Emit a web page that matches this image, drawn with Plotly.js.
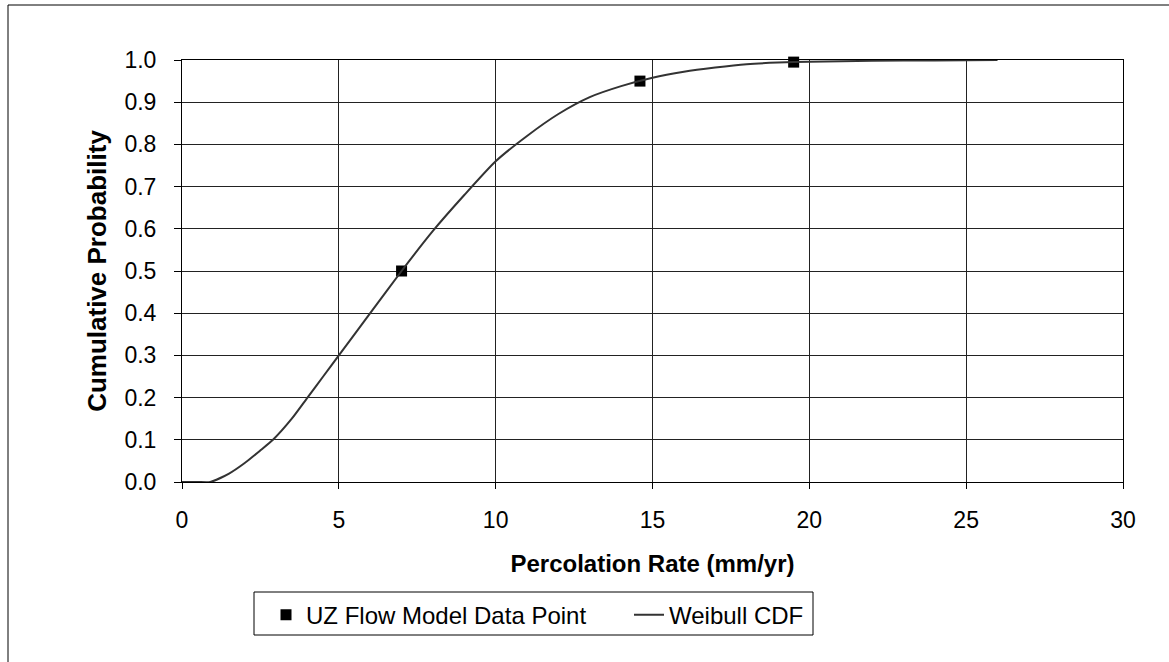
<!DOCTYPE html>
<html>
<head>
<meta charset="utf-8">
<script src="https://cdn.plot.ly/plotly-3.0.1.min.js"></script>
<style>
  html, body { margin: 0; padding: 0; background: #fff; }
  #chart { width: 1169px; height: 662px; }
</style>
</head>
<body>
<div id="chart"></div>
<script>
// Data
const pointX = [7.0, 14.6, 19.5];
const pointY = [0.50, 0.95, 0.995];

const cdfX = [0, 0.5, 0.9, 1.5, 2.0, 2.5, 2.9, 3.5, 4.0, 4.5, 5.0, 6.0, 7.0, 8.0, 9.0, 10.0, 11.0, 12.0, 13.0, 14.0, 15.0, 16.0, 17.0, 18.0, 19.0, 20.0, 22.0, 24.0, 26.0];
const cdfY = [0, 0, 0, 0.02, 0.045, 0.075, 0.10, 0.15, 0.20, 0.25, 0.30, 0.40, 0.50, 0.595, 0.68, 0.76, 0.82, 0.872, 0.912, 0.938, 0.958, 0.972, 0.982, 0.99, 0.994, 0.996, 0.998, 0.999, 1.0];

const xTicks = [0, 5, 10, 15, 20, 25, 30];
const yTicks = [0, 0.1, 0.2, 0.3, 0.4, 0.5, 0.6, 0.7, 0.8, 0.9, 1.0];

const seriesNames = ['UZ Flow Model Data Point', 'Weibull CDF'];
const xTitle = 'Percolation Rate (mm/yr)';
const yTitle = 'Cumulative Probability';

const FONT = '"Liberation Sans", Arial, Helvetica, sans-serif';

const traces = [
  {
    x: pointX, y: pointY, type: 'scatter', mode: 'markers', name: seriesNames[0],
    marker: { symbol: 'square', size: 11, color: '#000' },
    cliponaxis: false, legend: 'legend'
  },
  {
    x: cdfX, y: cdfY, type: 'scatter', mode: 'lines', name: seriesNames[1],
    line: { color: '#333', width: 2, shape: 'spline', smoothing: 0.6 },
    cliponaxis: false, legend: 'legend2'
  }
];

const legendFont = { family: FONT, size: 24, color: '#000' };

const layout = {
  width: 1169, height: 662,
  margin: { l: 182, r: 46, t: 60, b: 180 },
  paper_bgcolor: '#fff', plot_bgcolor: '#fff',
  font: { family: FONT, size: 23, color: '#000' },
  showlegend: true,
  xaxis: {
    range: [0, 30], tickvals: xTicks, ticktext: xTicks.map(v => String(v)),
    showgrid: true, gridcolor: '#222', gridwidth: 1,
    showline: true, linecolor: '#000', linewidth: 1, mirror: true,
    ticks: 'outside', ticklen: 6, tickcolor: '#000',
    ticklabelstandoff: 11,
    zeroline: false,
    tickfont: { family: FONT, size: 23, color: '#000' },
    title: { text: '<b>' + xTitle + '</b>', font: { family: FONT, size: 24, color: '#000' }, standoff: 23 }
  },
  yaxis: {
    range: [0, 1.0], tickvals: yTicks, ticktext: yTicks.map(v => v.toFixed(1)),
    showgrid: true, gridcolor: '#222', gridwidth: 1,
    showline: true, linecolor: '#000', linewidth: 1, mirror: true,
    ticks: 'outside', ticklen: 7, tickcolor: '#000',
    ticklabelstandoff: 13,
    zeroline: false,
    tickfont: { family: FONT, size: 23, color: '#000' },
    title: { text: '<b>' + yTitle + '</b>', font: { family: FONT, size: 26, color: '#000' }, standoff: 10 }
  },
  legend: {
    orientation: 'h', x: (266 - 182) / 941, y: -0.262, xanchor: 'left', yanchor: 'top',
    borderwidth: 0, bgcolor: 'rgba(0,0,0,0)',
    font: legendFont, itemwidth: 30
  },
  legend2: {
    orientation: 'h', x: (629 - 182) / 941, y: -0.262, xanchor: 'left', yanchor: 'top',
    borderwidth: 0, bgcolor: 'rgba(0,0,0,0)',
    font: legendFont, itemwidth: 30
  },
  shapes: [
    { type: 'rect', xref: 'paper', yref: 'paper',
      x0: -174 / 941, x1: 1.06, y0: -(662 + 10 - 482) / 422, y1: (482 - 5) / 422,
      line: { color: '#000', width: 1 }, fillcolor: 'rgba(0,0,0,0)', layer: 'below' },
    { type: 'rect', xref: 'paper', yref: 'paper',
      x0: (254 - 182) / 941, x1: (813 - 182) / 941, y0: -(635 - 482) / 422, y1: -(592 - 482) / 422,
      line: { color: '#000', width: 1 }, fillcolor: 'rgba(0,0,0,0)', layer: 'above' }
  ]
};

Plotly.newPlot('chart', traces, layout, { displayModeBar: false, staticPlot: true });
</script>
</body>
</html>
